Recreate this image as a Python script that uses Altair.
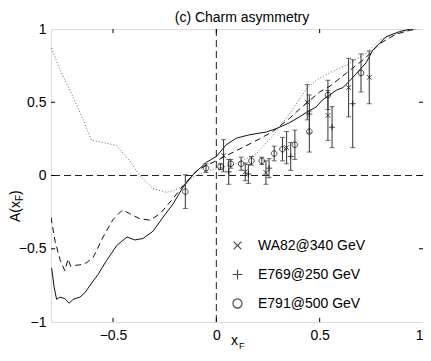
import altair as alt
import pandas as pd

# ---------------- data ----------------
solid_x = [-0.797, -0.785, -0.773, -0.757, -0.733, -0.712, -0.693, -0.660, -0.636, -0.596, -0.572,
           -0.531, -0.483, -0.459, -0.432, -0.395, -0.355, -0.306, -0.258, -0.210, -0.161, -0.11,
           -0.048, 0.0, 0.048, 0.097, 0.161, 0.242, 0.290, 0.354, 0.402, 0.435, 0.483, 0.515,
           0.547, 0.580, 0.612, 0.644, 0.680, 0.725, 0.757, 0.821, 0.886, 0.934, 1.0]
solid_y = [-0.63, -0.76, -0.845, -0.83, -0.84, -0.872, -0.845, -0.83, -0.80, -0.72, -0.675,
           -0.58, -0.48, -0.45, -0.42, -0.44, -0.43, -0.38, -0.285, -0.195, -0.08, 0.01,
           0.09, 0.13, 0.21, 0.255, 0.278, 0.297, 0.32, 0.36, 0.40, 0.43, 0.468, 0.518,
           0.548, 0.582, 0.60, 0.645, 0.70, 0.77, 0.856, 0.947, 0.982, 0.998, 1.01]

dash_x = [-0.80, -0.78, -0.755, -0.733, -0.717, -0.705, -0.693, -0.660, -0.628, -0.596, -0.548,
          -0.50, -0.454, -0.419, -0.371, -0.322, -0.274, -0.217, -0.161, -0.097, -0.048, 0.0,
          0.097, 0.209, 0.273, 0.354, 0.40, 0.45, 0.50, 0.55, 0.63, 0.72, 0.79, 0.87, 0.934, 1.0]
dash_y = [-0.285, -0.45, -0.58, -0.65, -0.57, -0.62, -0.615, -0.61, -0.595, -0.56, -0.42,
          -0.30, -0.235, -0.26, -0.295, -0.305, -0.263, -0.17, -0.07, 0.03, 0.07, 0.10,
          0.17, 0.25, 0.30, 0.39, 0.45, 0.51, 0.57, 0.61, 0.70, 0.80, 0.90, 0.965, 0.99, 1.01]

dot_x = [-0.797, -0.757, -0.693, -0.644, -0.604, -0.531, -0.483, -0.419, -0.371, -0.306, -0.242,
         -0.21, -0.161, -0.113, -0.048, 0.0, 0.097, 0.193, 0.273, 0.354, 0.435, 0.483, 0.547,
         0.644, 0.725, 0.789, 0.853, 0.93, 1.0]
dot_y = [0.87, 0.72, 0.535, 0.38, 0.24, 0.22, 0.205, 0.10, 0.0, -0.09, -0.115,
         -0.105, -0.07, -0.01, 0.03, 0.046, 0.08, 0.148, 0.27, 0.42, 0.59, 0.65, 0.70,
         0.765, 0.834, 0.925, 0.96, 0.99, 1.01]

series_names = ["WA82@340 GeV", "E769@250 GeV", "E791@500 GeV"]

wa82_x = [0.035, 0.14, 0.24, 0.34, 0.44, 0.54, 0.64, 0.74]
wa82_y = [0.135, 0.025, 0.02, 0.19, 0.50, 0.41, 0.60, 0.67]
wa82_err = [0.11, 0.06, 0.08, 0.11, 0.12, 0.17, 0.20, 0.18]

e769_x = [0.06, 0.155, 0.255, 0.36, 0.45, 0.56, 0.66]
e769_y = [0.025, 0.01, 0.05, 0.13, 0.42, 0.33, 0.49]
e769_err = [0.085, 0.065, 0.065, 0.095, 0.13, 0.14, 0.30]

e791_x = [-0.15, -0.05, 0.02, 0.07, 0.12, 0.17, 0.22, 0.28, 0.32, 0.38, 0.45, 0.54, 0.70]
e791_y = [-0.11, 0.05, 0.06, 0.08, 0.08, 0.10, 0.10, 0.15, 0.18, 0.21, 0.30, 0.55, 0.70]
e791_err = [0.115, 0.03, 0.02, 0.03, 0.045, 0.03, 0.025, 0.05, 0.08, 0.10, 0.14, 0.10, 0.13]

x_ticks = [-0.5, 0, 0.5, 1]
y_ticks = [-1, -0.5, 0, 0.5, 1]
x_domain = [-0.8, 1]
y_domain = [-1, 1]

title_text = "(c) Charm asymmetry"
FONT = "Liberation Sans"

# ---------------- tables ----------------
def curve(xs, ys):
    return pd.DataFrame({"x": xs, "y": ys, "i": range(len(xs))})

rows = []
for name, xs_, ys_, es in [(series_names[0], wa82_x, wa82_y, wa82_err),
                           (series_names[1], e769_x, e769_y, e769_err),
                           (series_names[2], e791_x, e791_y, e791_err)]:
    for a, b, e in zip(xs_, ys_, es):
        rows.append({"x": a, "y": b, "lo": b - e, "hi": b + e, "series": name})
pts = pd.DataFrame(rows)

xs = alt.Scale(domain=x_domain, nice=False, zero=False)
ys = alt.Scale(domain=y_domain, nice=False, zero=False)


def X(f="x"):
    return alt.X(f"{f}:Q", scale=xs, axis=alt.Axis(values=x_ticks, format="~g", ticks=False,
                                                   grid=False, title=None, labelFontSize=14,
                                                   labelFont=FONT, labelColor="black",
                                                   labelPadding=6, domain=False))


def Y(f="y"):
    return alt.Y(f"{f}:Q", scale=ys, axis=alt.Axis(values=y_ticks, format="~g", ticks=False,
                                                   grid=False, title=None, labelFontSize=14,
                                                   labelFont=FONT, labelColor="black",
                                                   labelPadding=5, domain=False))


solid = alt.Chart(curve(solid_x, solid_y)).mark_line(color="#111", strokeWidth=1, clip=True).encode(
    x=X(), y=Y(), order="i:Q")
dashed = alt.Chart(curve(dash_x, dash_y)).mark_line(color="#111", strokeWidth=1, strokeDash=[6, 4],
                                                    clip=True).encode(x=X(), y=Y(), order="i:Q")
dotted = alt.Chart(curve(dot_x, dot_y)).mark_line(color="#666", strokeWidth=1, strokeDash=[1, 2],
                                                  clip=True).encode(x=X(), y=Y(), order="i:Q")

zero = pd.DataFrame({"v": [0]})
vref = alt.Chart(zero).mark_rule(color="#222", strokeWidth=1, strokeDash=[7, 4]).encode(x=X("v"))
href = alt.Chart(zero).mark_rule(color="#222", strokeWidth=1, strokeDash=[7, 4]).encode(y=Y("v"))

# inner ticks (MATLAB style)
xt = pd.DataFrame({"v": x_ticks[:-1]})
yt = pd.DataFrame({"v": y_ticks[1:-1]})
tick_b = alt.Chart(xt).mark_rule(color="black").encode(x=X("v"), y=alt.datum(y_domain[0], scale=ys),
                                                      y2=alt.datum(y_domain[0] + 0.028))
tick_t = alt.Chart(xt).mark_rule(color="black").encode(x=X("v"), y=alt.datum(y_domain[1], scale=ys),
                                                      y2=alt.datum(y_domain[1] - 0.028))
tick_l = alt.Chart(yt).mark_rule(color="black").encode(y=Y("v"), x=alt.datum(x_domain[0], scale=xs),
                                                      x2=alt.datum(x_domain[0] + 0.02))
tick_r = alt.Chart(yt).mark_rule(color="black").encode(y=Y("v"), x=alt.datum(x_domain[1], scale=xs),
                                                      x2=alt.datum(x_domain[1] - 0.02))

bars = alt.Chart(pts).mark_rule(color="#333", strokeWidth=1).encode(x=X(), y=Y("lo"), y2="hi:Q")
cap_lo = alt.Chart(pts).mark_tick(color="#333", orient="horizontal", size=5, thickness=1).encode(
    x=X(), y=Y("lo"))
cap_hi = alt.Chart(pts).mark_tick(color="#333", orient="horizontal", size=5, thickness=1).encode(
    x=X(), y=Y("hi"))

x_path = "M-0.6,-0.6L0.6,0.6M-0.6,0.6L0.6,-0.6"
plus_path = "M-0.75,0L0.75,0M0,-0.75L0,0.75"
circ_path = "M0.7,0A0.7,0.7,0,1,1,-0.7,0A0.7,0.7,0,1,1,0.7,0Z"

points = alt.Chart(pts).mark_point(color="black", filled=False, size=64, strokeWidth=1).encode(
    x=X(), y=Y(),
    shape=alt.Shape("series:N",
                    scale=alt.Scale(domain=series_names, range=[x_path, plus_path, circ_path]),
                    legend=alt.Legend(orient="none", legendX=179, legendY=209, title=None,
                                      symbolSize=169, symbolStrokeWidth=1.2,
                                      symbolStrokeColor="black", labelFont=FONT,
                                      labelFontSize=14, labelColor="black", labelOffset=13,
                                      rowPadding=14, padding=0)))


def txt(t, size, px, py, angle=None):
    kw = dict(font=FONT, fontSize=size, align="left", baseline="alphabetic", color="black")
    if angle is not None:
        kw["angle"] = angle
    return alt.Chart(pd.DataFrame({"t": [t]})).mark_text(**kw).encode(
        x=alt.value(px), y=alt.value(py), text="t:N")


title = alt.Chart(pd.DataFrame({"t": [title_text]})).mark_text(
    font=FONT, fontSize=14, align="center", baseline="alphabetic", color="black").encode(
    x=alt.value(191), y=alt.value(-7), text="t:N")

xlab1 = txt("x", 14, 180, 316)
xlab2 = txt("F", 9, 188, 320)
ylab1 = txt("A(x", 14, -31, 193, 270)
ylab2 = txt("F", 10, -28, 172, 270)
ylab3 = txt(")", 14, -31, 166, 270)

chart = alt.layer(
    href, vref, dotted, dashed, solid, tick_b, tick_t, tick_l, tick_r,
    bars, cap_lo, cap_hi, points, title, xlab1, xlab2, ylab1, ylab2, ylab3
).properties(
    width=372, height=293,
    autosize=alt.AutoSizeParams(type="none"),
    padding={"left": 43, "top": 21, "right": 0, "bottom": 30},
).configure_view(stroke="black", strokeWidth=1).configure(background="white")

chart.save("out.html", embed_options={"renderer": "svg", "actions": False})
